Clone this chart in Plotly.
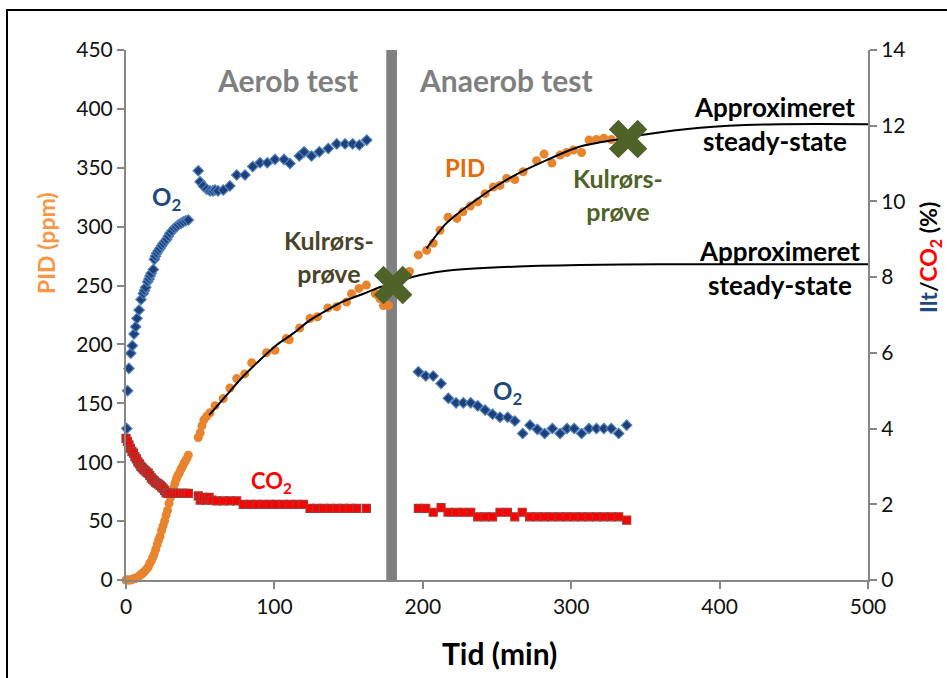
import plotly.graph_objects as go

# ---------------- data ----------------
# PID (ppm), aerobic + anaerobic phase
pid_t = [0, 1, 2, 3, 4, 5, 6, 7, 8, 9, 10, 11, 12, 13, 14, 15, 16, 17, 18, 19, 20,
         21, 22, 23, 24, 25, 26, 27, 28, 29, 30, 31, 32, 33, 34, 35, 36, 37, 38, 39, 40, 41, 42,
         48.7, 50, 51.2, 52.5, 54.4, 56.6, 60, 65.5, 70, 74.6, 80, 84.7, 94.7, 100.4, 108, 110,
         117, 124, 129, 136, 142, 148.6, 152, 157, 162, 168, 171, 173.5, 177,
         182.4, 185.8, 191, 197, 202.6, 207, 211.6, 217, 223, 227, 232, 237, 242, 247.5, 252,
         256.5, 262, 267.6, 276.7, 281.7, 287, 292.5, 297, 301.4, 307, 312, 317, 322, 327, 333]
pid_v = [0, 0, 0, 0, 0.5, 1, 1, 2, 2.5, 3.5, 4.5, 5.5, 6.5, 8, 9.5, 11, 14, 16, 19, 22, 26,
         30, 34, 37, 42, 46, 50, 55, 59, 65, 70, 74, 78, 82, 86, 89, 91, 94, 96, 99, 101, 103, 106,
         121, 125, 131, 136, 139, 142, 148, 154, 163, 171, 175, 184.5, 193, 195, 205, 204,
         214, 222, 223.5, 231, 232, 236, 243, 247.6, 250.4, 243, 239, 233, 233,
         245.6, 242, 262, 276, 280, 286, 297, 308, 307, 312.6, 317.5, 321, 328, 333.6, 335,
         341, 340, 346.6, 356, 361.6, 354, 360.8, 363, 365, 363, 373.5, 374, 375, 374, 374]

# O2 (%)
o2_t = [0.5, 1.1, 2, 3.2, 4.3, 5.4, 6.5, 7.4, 8.8, 10.1, 11.7, 12.5, 13.3, 14.6, 15.5, 16.2, 17,
        18.4, 19.1, 19.8, 20.7, 21.8, 22.9, 24, 25.1, 26.3, 27.4, 28.5, 29.6, 31, 32.5, 33.8,
        35.2, 37, 38.6, 40.3, 42,
        48.7, 49.9, 52.1, 54.4, 56.6, 58.5, 60, 62, 65.6, 70, 74.6, 80.2, 85.4, 90.3, 95.2,
        100.4, 106.5, 110.5, 116.8, 120, 125, 130.3, 136.3, 142, 147.6, 152.7, 157.2, 162.2,
        197, 202, 207, 212.3, 217.2, 222.4, 227.3, 232.3, 237, 242, 247, 252, 257.2, 262,
        267.3, 272.2, 277.2, 282.1, 287.3, 292.5, 297.2, 302, 307, 312, 317, 322, 327, 332, 337.4]
o2_v = [4.0, 5.0, 5.59, 5.99, 6.19, 6.5, 6.69, 6.91, 7.13, 7.41, 7.57, 7.65, 7.73, 7.88, 7.95, 8.03, 8.1,
        8.2, 8.47, 8.55, 8.63, 8.7, 8.76, 8.83, 8.89, 8.95, 9.0, 9.08, 9.16, 9.22, 9.29, 9.33,
        9.38, 9.42, 9.46, 9.49, 9.51,
        10.81, 10.52, 10.41, 10.32, 10.28, 10.28, 10.3, 10.28, 10.3, 10.41, 10.7, 10.7, 10.92, 11.02, 11.02,
        11.11, 11.11, 11.0, 11.2, 11.31, 11.2, 11.31, 11.4, 11.52, 11.52, 11.52, 11.49, 11.62,
        5.5, 5.39, 5.39, 5.19, 4.8, 4.68, 4.68, 4.68, 4.6, 4.49, 4.38, 4.3, 4.3, 4.2,
        3.87, 4.09, 3.98, 3.87, 4.0, 3.87, 4.0, 4.0, 3.87, 4.0, 4.0, 4.0, 4.0, 3.87, 4.09]

# CO2 (%)
co2_t = [0, 1, 2, 3, 4, 5, 6, 7, 8, 9, 10, 11, 12, 13, 14, 15, 16, 17, 18, 19, 20, 21, 22,
         23, 24, 25, 26, 27, 28, 29, 30, 32, 34, 36, 38, 40, 42,
         48.7, 50, 52, 54, 56, 58, 61, 65.6, 70, 74.6, 79, 83.6, 88, 92.6, 97, 101, 106, 110.5,
         115, 119.5, 124, 128.5, 133, 137.5, 142, 146.6, 151, 155.5, 162,
         197, 202, 207, 212.3, 217, 222.4, 227.3, 232.3, 237, 242, 247, 252, 257, 262, 267, 272,
         277, 282, 287, 292, 297, 302, 307, 312, 317, 322, 327, 332, 337.4]
co2_v = [3.74, 3.66, 3.57, 3.48, 3.4, 3.35, 3.26, 3.2, 3.12, 3.07, 3.0, 2.96, 2.92, 2.88, 2.85,
         2.82, 2.76, 2.7, 2.66, 2.62, 2.58, 2.55, 2.53, 2.5, 2.46, 2.42, 2.37, 2.31, 2.29, 2.29,
         2.29, 2.29, 2.29, 2.29, 2.29, 2.29, 2.29,
         2.22, 2.11, 2.18, 2.11, 2.18, 2.11, 2.09, 2.09, 2.09, 2.09, 2.0, 2.0, 2.0, 2.0, 2.0, 2.0,
         2.0, 2.0, 2.0, 2.0, 1.89, 1.89, 1.89, 1.89, 1.89, 1.89, 1.89, 1.89, 1.89,
         1.89, 1.89, 1.79, 1.91, 1.79, 1.79, 1.79, 1.79, 1.67, 1.67, 1.67, 1.79, 1.79, 1.67,
         1.79, 1.67, 1.67, 1.67, 1.67, 1.67, 1.67, 1.67, 1.67, 1.67, 1.67, 1.67, 1.67, 1.67, 1.58]

# approximated steady-state curves
fit1_t = [56, 67.8, 79, 90.3, 101.5, 112.7, 124, 135.2, 146.4, 160, 171, 180, 193.6, 216,
          261, 306, 360, 430, 500]
fit1_v = [140, 157, 173, 186.8, 199.5, 209.4, 220.7, 229, 236.5, 243, 248.5, 251.5, 257.5,
          262.5, 266, 267.4, 268, 268, 268]
fit2_t = [202.6, 216, 238.5, 261, 283.5, 306, 333, 348.5, 387, 432, 500]
fit2_v = [281.6, 303, 325, 343, 356.5, 368, 374.5, 378, 384, 386.8, 387]

# charcoal tube samples ("Kulrørsprøve")
sample_t = [180, 338.3]
sample_v = [250.4, 374.4]

# boundary between aerobic and anaerobic test
split_t = 179

x_ticks = [0, 100, 200, 300, 400, 500]
y1_ticks = [0, 50, 100, 150, 200, 250, 300, 350, 400, 450]
y2_ticks = [0, 2, 4, 6, 8, 10, 12, 14]

# ---------------- figure ----------------
W, H = 947, 678
L, R, T, B = 126, 79, 50, 98
PW, PH = W - L - R, H - T - B
FONT = "Lato, Carlito, Calibri, sans-serif"


def px(x):
    return (x - L) / PW


def py(y):
    return (H - B - y) / PH


fig = go.Figure()

fig.add_trace(go.Scatter(
    x=o2_t, y=o2_v, yaxis="y2", mode="markers", cliponaxis=False,
    marker=dict(symbol="diamond", size=8, color="#1F3F78",
                line=dict(color="#4F81BD", width=1.2)),
    showlegend=False))
fig.add_trace(go.Scatter(
    x=co2_t, y=co2_v, yaxis="y2", mode="markers", cliponaxis=False,
    marker=dict(symbol="square", size=8, color="#FF0000",
                line=dict(color="#A33A36", width=1.2)),
    showlegend=False))
fig.add_trace(go.Scatter(
    x=pid_t, y=pid_v, mode="markers", cliponaxis=False,
    marker=dict(symbol="circle", size=9, color="#E8832E", line=dict(width=0)),
    showlegend=False))
fig.add_trace(go.Scatter(
    x=fit1_t, y=fit1_v, mode="lines", line=dict(color="black", width=2, shape="spline", smoothing=0.8),
    showlegend=False))
fig.add_trace(go.Scatter(
    x=fit2_t, y=fit2_v, mode="lines", line=dict(color="black", width=2, shape="spline", smoothing=0.8),
    showlegend=False))
fig.add_trace(go.Scatter(
    x=sample_t, y=sample_v, mode="markers", cliponaxis=False,
    marker=dict(symbol="x", size=34, color="#4F6228", line=dict(width=0)),
    showlegend=False))

# grey separator bar
fig.add_shape(type="rect", xref="x", yref="y", x0=split_t - 3.6, x1=split_t + 3.6,
              y0=0, y1=450, fillcolor="#808080", line=dict(width=0), layer="below")

# outer frame
fig.add_shape(type="rect", xref="paper", yref="paper",
              x0=px(7), x1=px(960), y0=py(700), y1=py(10),
              line=dict(color="black", width=2), fillcolor="rgba(0,0,0,0)")

axis_common = dict(showgrid=False, zeroline=False, showline=True, linecolor="#868686",
                   linewidth=2, ticks="outside", ticklen=7, tickwidth=1.5, tickcolor="#868686",
                   tickfont=dict(family=FONT, size=21, color="#111111"))

fig.update_layout(
    width=W, height=H,
    margin=dict(l=L, r=R, t=T, b=B),
    paper_bgcolor="white", plot_bgcolor="white",
    xaxis=dict(range=[0, 500], tickvals=x_ticks, **axis_common),
    yaxis=dict(range=[0, 450], tickvals=y1_ticks, **axis_common),
    yaxis2=dict(range=[0, 14], tickvals=y2_ticks, overlaying="y", side="right", **axis_common),
    font=dict(family=FONT),
)


def ann(text, x, y, size, color, xanchor="center", angle=0):
    fig.add_annotation(text=text, x=px(x), y=py(y), xref="paper", yref="paper",
                       xanchor=xanchor, yanchor="middle", showarrow=False, textangle=angle,
                       font=dict(family=FONT, size=size, color=color))


ann("<b>Aerob test</b>", 287, 80, 30, "#7F7F7F")
ann("<b>Anaerob test</b>", 506, 80, 30, "#7F7F7F")
ann("<b>PID</b>", 465, 168, 24, "#E46C0A")
ann("<b>Kulrørs-<br>prøve</b>", 329, 256, 25, "#494429")
ann("<b>Kulrørs-<br>prøve</b>", 618, 194, 25, "#4F6228")
ann("<b>O<sub>2</sub></b>", 166, 198, 24, "#1F497D")
ann("<b>O<sub>2</sub></b>", 507, 392, 24, "#1F497D")
ann("<b>CO<sub>2</sub></b>", 271, 482, 22, "#FF0000")
ann("<b>Approximeret<br>steady-state</b>", 692, 124, 26, "black", xanchor="left")
ann("<b>Approximeret<br>steady-state</b>", 697, 268, 26, "black", xanchor="left")
ann("<b>PID (ppm)</b>", 46, 243, 23, "#F79646", angle=-90)
ann("<b><span style='color:#1F497D'>Ilt</span>/<span style='color:#FF0000'>CO<sub>2</sub></span> (%)</b>",
    929, 258, 23, "black", angle=-90)
ann("<b>Tid (min)</b>", 499, 653, 30, "black")

fig.write_html("out.html", config={"displayModeBar": False},
               post_script="document.body.style.margin='0';document.body.style.padding='0';")
